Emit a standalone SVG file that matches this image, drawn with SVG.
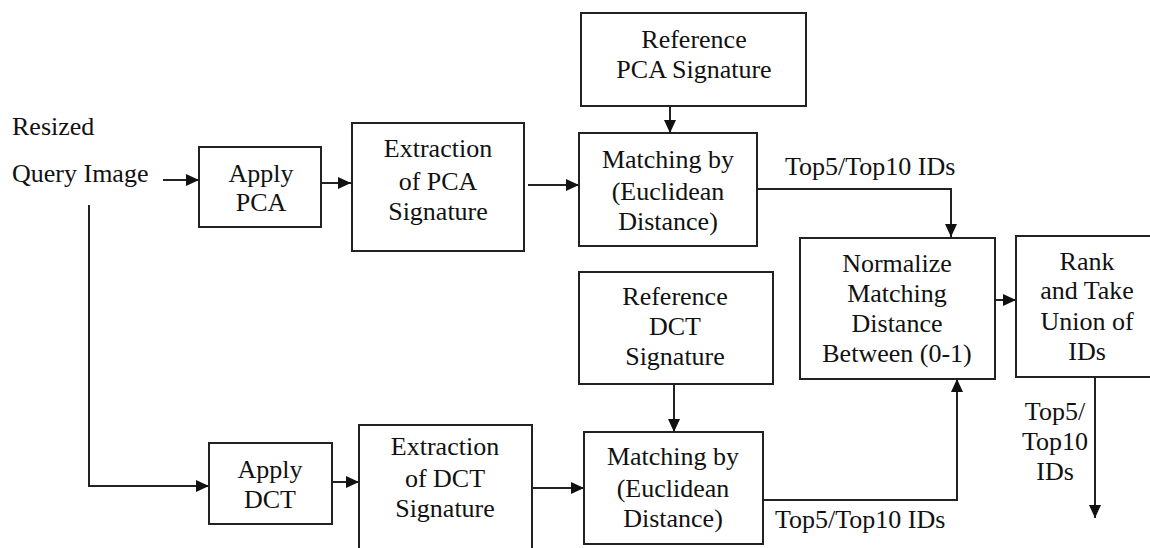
<svg xmlns="http://www.w3.org/2000/svg" width="1150" height="548" viewBox="0 0 1150 548">
<defs>
<marker id="arr" markerUnits="userSpaceOnUse" markerWidth="14" markerHeight="12" refX="13" refY="6" orient="auto">
<path d="M0,0 L13,6 L0,12 z" fill="#111"/>
</marker>
<style>
.box{fill:#fff;stroke:#222;stroke-width:2}
text{font-family:'Liberation Serif',Tinos,'Times New Roman',Times,'Noto Serif','Nimbus Roman','Nimbus Roman No9 L',FreeSerif,'DejaVu Serif',serif;font-size:26px;fill:#111}
.t{text-anchor:middle}
.c{fill:none;stroke:#222;stroke-width:2}
</style>
</defs>
<rect width="1150" height="548" fill="#fff"/>
<g id="connectors">
<line class="c" x1="163" y1="180" x2="199" y2="180" marker-end="url(#arr)"/>
<line class="c" x1="321" y1="183" x2="351" y2="183" marker-end="url(#arr)"/>
<line class="c" x1="528" y1="185" x2="579" y2="185" marker-end="url(#arr)"/>
<line class="c" x1="670" y1="106" x2="670" y2="133" marker-end="url(#arr)"/>
<polyline class="c" points="757,189 951,189 951,237" marker-end="url(#arr)"/>
<line class="c" x1="993" y1="300" x2="1016" y2="300" marker-end="url(#arr)"/>
<line class="c" x1="1095" y1="377" x2="1095" y2="518" marker-end="url(#arr)"/>
<polyline class="c" points="89,205 89,486 209,486" marker-end="url(#arr)"/>
<line class="c" x1="332" y1="482" x2="359" y2="482" marker-end="url(#arr)"/>
<line class="c" x1="532" y1="488" x2="584" y2="488" marker-end="url(#arr)"/>
<line class="c" x1="674" y1="384" x2="674" y2="432" marker-end="url(#arr)"/>
<polyline class="c" points="763,500 957,500 957,379" marker-end="url(#arr)"/>
</g>
<g id="labels">
<text x="12" y="135">Resized</text>
<text x="12" y="182">Query Image</text>
<text x="785" y="175">Top5/Top10 IDs</text>
<text x="775" y="528">Top5/Top10 IDs</text>
<text class="t" x="1055" y="420">Top5/</text>
<text class="t" x="1055" y="450">Top10</text>
<text class="t" x="1055" y="480">IDs</text>
</g>
<g id="apply-pca">
<rect class="box" x="199" y="147" width="122" height="80"/>
<text class="t" x="261" y="182">Apply</text>
<text class="t" x="261" y="211">PCA</text>
</g>
<g id="extract-pca">
<rect class="box" x="352" y="123" width="172" height="128"/>
<text class="t" x="438" y="157">Extraction</text>
<text class="t" x="438" y="190">of PCA</text>
<text class="t" x="438" y="220">Signature</text>
</g>
<g id="ref-pca">
<rect class="box" x="581" y="13" width="225" height="93"/>
<text class="t" x="694" y="48">Reference</text>
<text class="t" x="694" y="78">PCA Signature</text>
</g>
<g id="match-pca">
<rect class="box" x="579" y="133" width="178" height="113"/>
<text class="t" x="668" y="168">Matching by</text>
<text class="t" x="668" y="200">(Euclidean</text>
<text class="t" x="668" y="230">Distance)</text>
</g>
<g id="normalize">
<rect class="box" x="800" y="238" width="195" height="141"/>
<text class="t" x="897" y="272">Normalize</text>
<text class="t" x="897" y="302">Matching</text>
<text class="t" x="897" y="332">Distance</text>
<text class="t" x="897" y="362">Between (0-1)</text>
</g>
<g id="rank">
<rect class="box" x="1016" y="236" width="140" height="141"/>
<text class="t" x="1087" y="270">Rank</text>
<text class="t" x="1087" y="299">and Take</text>
<text class="t" x="1087" y="330">Union of</text>
<text class="t" x="1087" y="360">IDs</text>
</g>
<g id="apply-dct">
<rect class="box" x="209" y="443" width="123" height="81"/>
<text class="t" x="270" y="478">Apply</text>
<text class="t" x="270" y="508">DCT</text>
</g>
<g id="extract-dct">
<rect class="box" x="359" y="425" width="173" height="130"/>
<text class="t" x="445" y="455">Extraction</text>
<text class="t" x="445" y="487">of DCT</text>
<text class="t" x="445" y="517">Signature</text>
</g>
<g id="ref-dct">
<rect class="box" x="579" y="272" width="194" height="112"/>
<text class="t" x="675" y="305">Reference</text>
<text class="t" x="675" y="335">DCT</text>
<text class="t" x="675" y="365">Signature</text>
</g>
<g id="match-dct">
<rect class="box" x="584" y="432" width="179" height="112"/>
<text class="t" x="673" y="465">Matching by</text>
<text class="t" x="673" y="497">(Euclidean</text>
<text class="t" x="673" y="527">Distance)</text>
</g>
</svg>
